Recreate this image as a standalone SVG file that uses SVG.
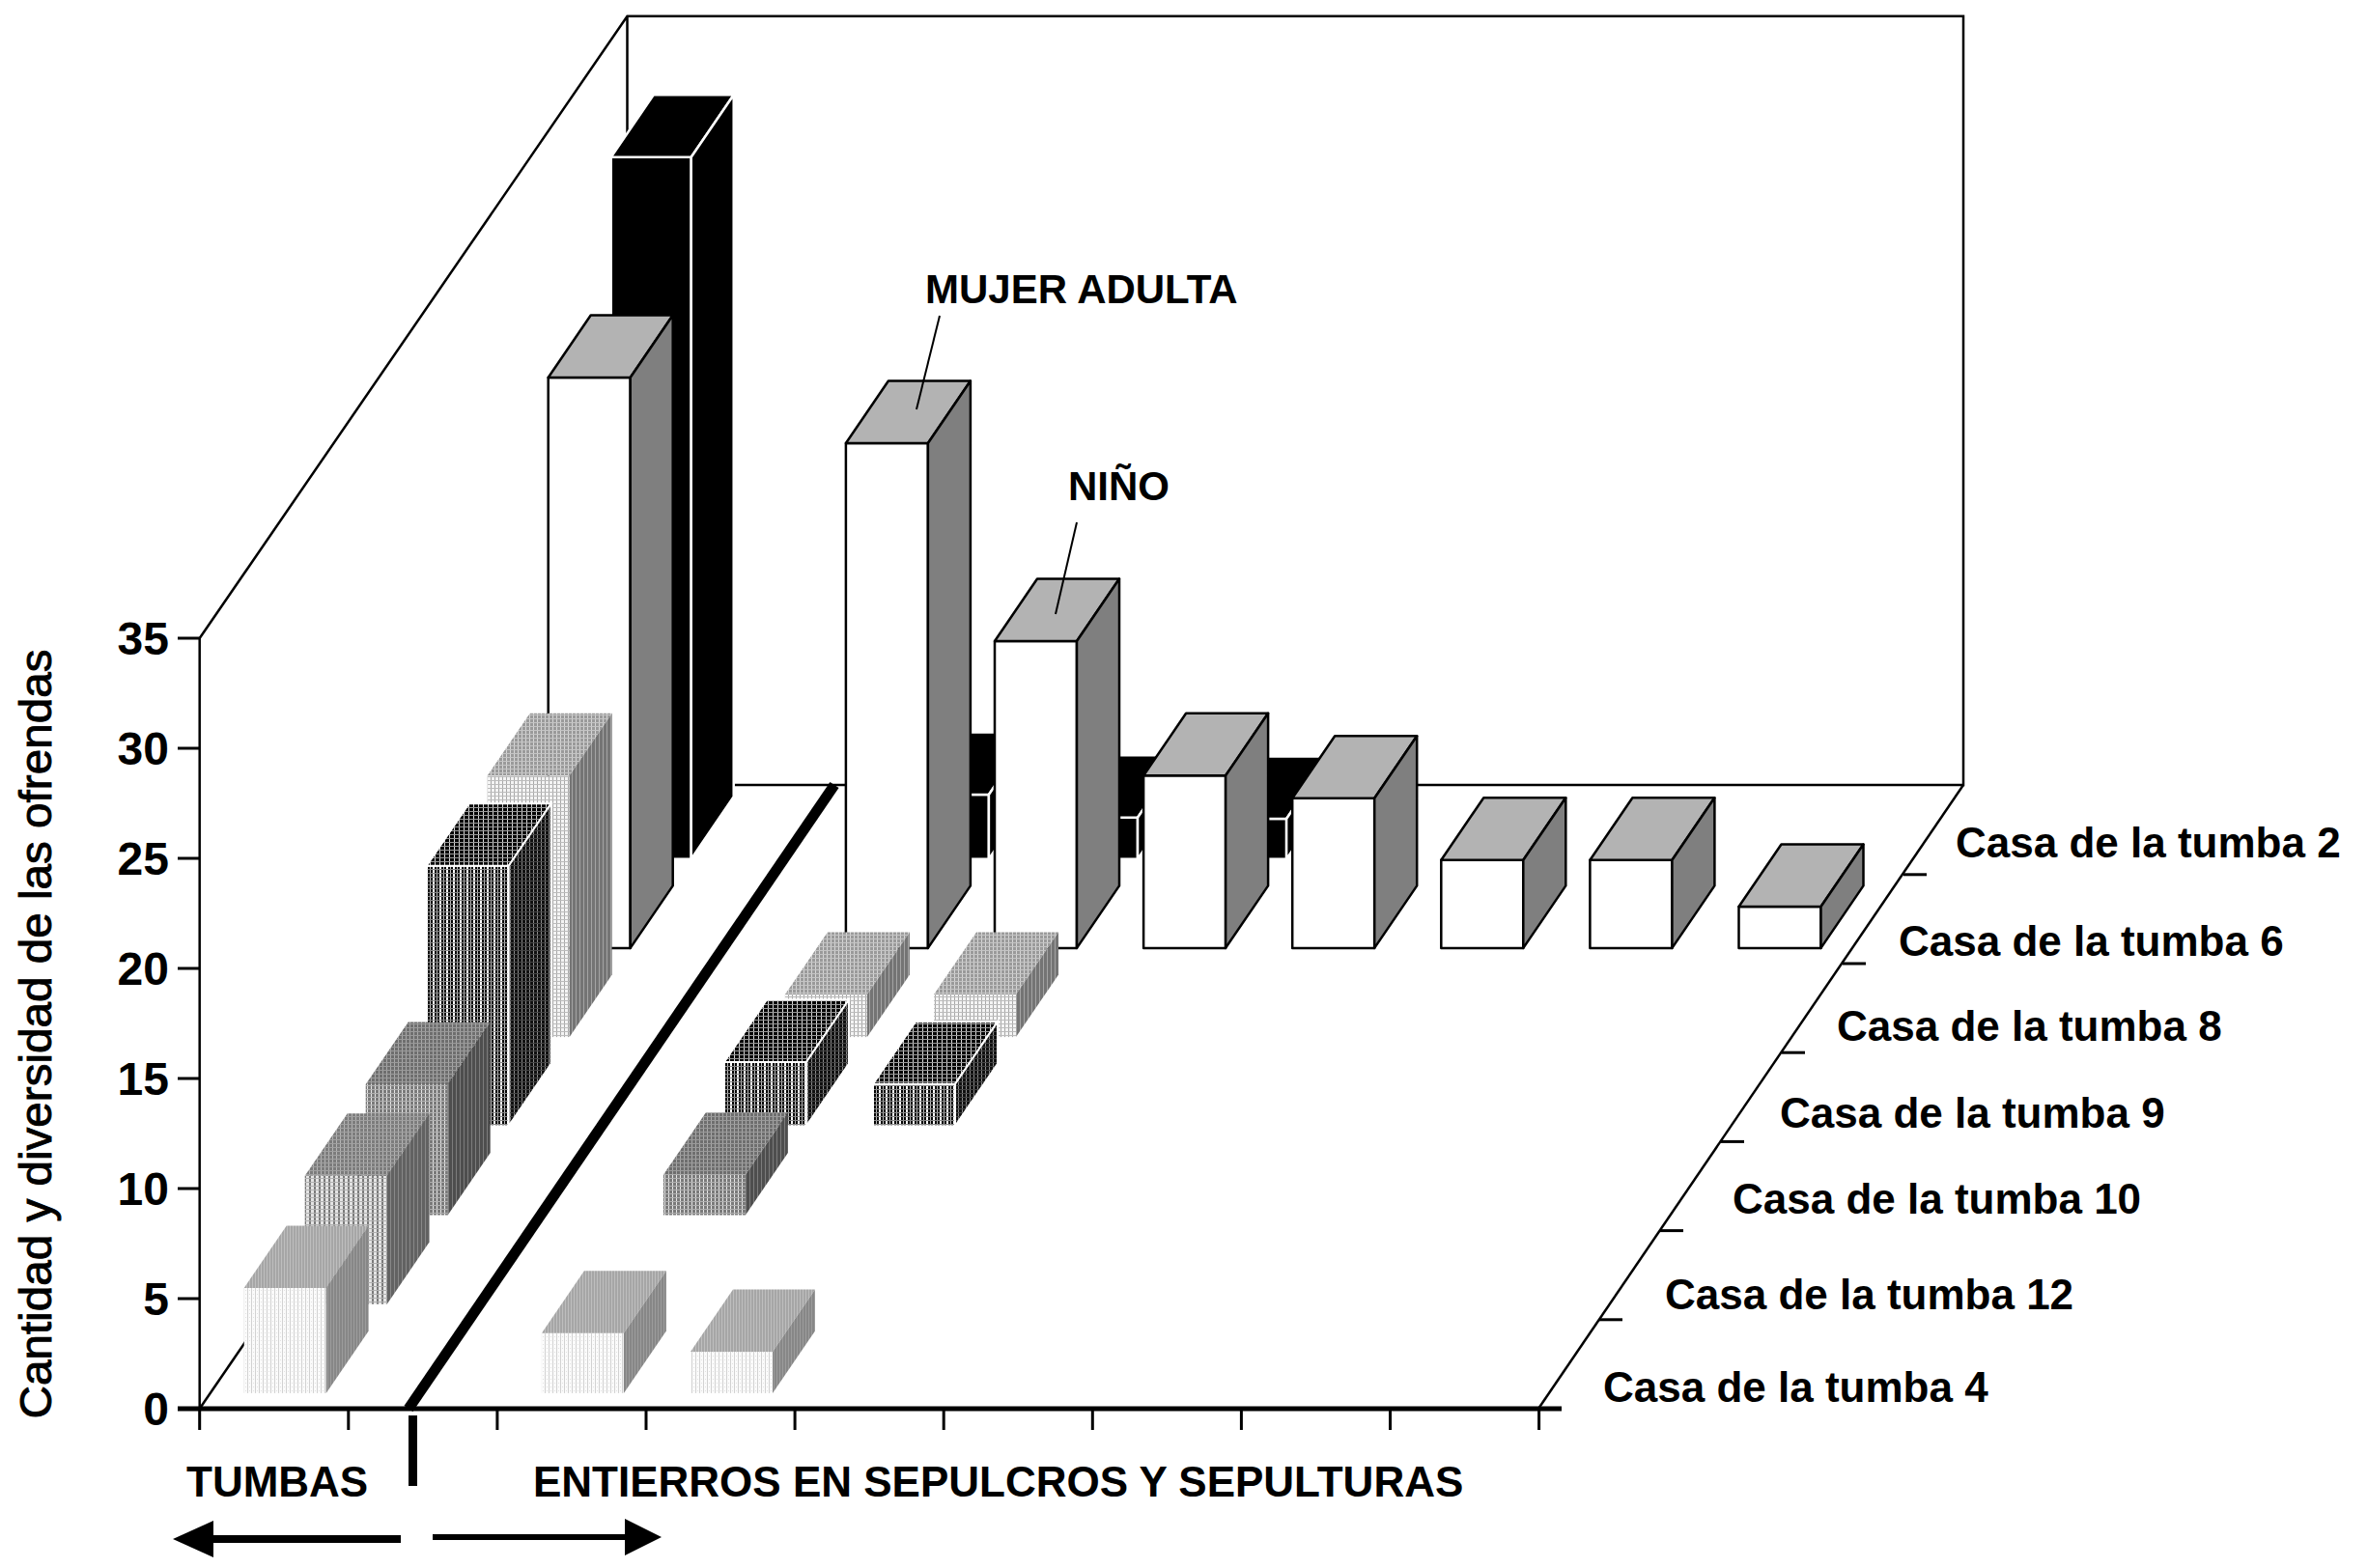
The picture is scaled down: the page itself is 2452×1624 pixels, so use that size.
<svg xmlns="http://www.w3.org/2000/svg" width="2452" height="1624" viewBox="0 0 2452 1624">
<style>
.t{font-family:"Liberation Sans",Arial,sans-serif;fill:#000}
.b{font-weight:bold}
.ax{stroke:#000;stroke-width:2.5;fill:none}
.tk{stroke:#000;stroke-width:3}
.w5 .f{fill:#fff;stroke:#000;stroke-width:2.5;stroke-linejoin:round}
.w5 .tp{fill:#b3b3b3;stroke:#000;stroke-width:2.5;stroke-linejoin:round}
.w5 .sd{fill:#7f7f7f;stroke:#000;stroke-width:2.5;stroke-linejoin:round}
.k6 .f,.k6 .tp,.k6 .sd{fill:#000;stroke:#fff;stroke-width:2.5}
.s0 .f{fill:url(#p0f)} .s0 .tp{fill:url(#p0t)} .s0 .sd{fill:url(#p0s)}
.s1 .f{fill:url(#p1f)} .s1 .tp{fill:url(#p1t)} .s1 .sd{fill:url(#p1s)}
.s2 .f{fill:url(#p2f)} .s2 .tp{fill:url(#p2t)} .s2 .sd{fill:url(#p2s)}
.s3 .f{fill:url(#p3f);stroke:#fff;stroke-width:2} .s3 .tp{fill:url(#p3t);stroke:#fff;stroke-width:2} .s3 .sd{fill:url(#p3s);stroke:#fff;stroke-width:2}
.s4 .f{fill:url(#p4f)} .s4 .tp{fill:url(#p4t)} .s4 .sd{fill:url(#p4s)}
</style>
<defs>
<pattern id="p0f" width="4" height="4" patternUnits="userSpaceOnUse"><rect width="4" height="4" fill="#fbfbfb"/><rect width="1" height="4" fill="#d2d2d2"/><rect x="2" y="0" width="1" height="1" fill="#e2e2e2"/></pattern>
<pattern id="p0t" width="3" height="3" patternUnits="userSpaceOnUse"><rect width="3" height="3" fill="#a6a6a6"/><rect width="1" height="3" fill="#bebebe"/></pattern>
<pattern id="p0s" width="3" height="3" patternUnits="userSpaceOnUse"><rect width="3" height="3" fill="#878787"/><rect width="1" height="3" fill="#9c9c9c"/></pattern>
<pattern id="p1f" width="5" height="4" patternUnits="userSpaceOnUse"><rect width="5" height="4" fill="#e4e4e4"/><rect width="2" height="4" fill="#7a7a7a"/><rect y="0" width="5" height="1" fill="#b0b0b0"/></pattern>
<pattern id="p1t" width="4" height="4" patternUnits="userSpaceOnUse"><rect width="4" height="4" fill="#7c7c7c"/><rect width="1" height="4" fill="#b4b4b4"/><rect width="4" height="1" fill="#a0a0a0"/></pattern>
<pattern id="p1s" width="4" height="4" patternUnits="userSpaceOnUse"><rect width="4" height="4" fill="#626262"/><rect width="1" height="4" fill="#888"/></pattern>
<pattern id="p2f" width="4" height="4" patternUnits="userSpaceOnUse"><rect width="4" height="4" fill="#7a7a7a"/><rect width="1" height="4" fill="#e6e6e6"/><rect width="4" height="1" fill="#b0b0b0"/></pattern>
<pattern id="p2t" width="4" height="4" patternUnits="userSpaceOnUse"><rect width="4" height="4" fill="#6e6e6e"/><rect width="1" height="4" fill="#a8a8a8"/><rect width="4" height="1" fill="#9a9a9a"/></pattern>
<pattern id="p2s" width="4" height="4" patternUnits="userSpaceOnUse"><rect width="4" height="4" fill="#4e4e4e"/><rect width="1" height="4" fill="#7c7c7c"/></pattern>
<pattern id="p3f" width="7" height="4" patternUnits="userSpaceOnUse"><rect width="7" height="4" fill="#050505"/><rect width="2" height="4" fill="#fff"/><rect x="4" width="1" height="4" fill="#bbb"/><rect width="7" height="1" fill="#888"/></pattern>
<pattern id="p3t" width="5" height="4" patternUnits="userSpaceOnUse"><rect width="5" height="4" fill="#050505"/><rect width="1" height="4" fill="#d8d8d8"/><rect width="5" height="1" fill="#999"/></pattern>
<pattern id="p3s" width="4" height="4" patternUnits="userSpaceOnUse"><rect width="4" height="4" fill="#101010"/><rect width="1" height="4" fill="#8a8a8a"/><rect width="4" height="1" fill="#444"/></pattern>
<pattern id="p4f" width="4" height="4" patternUnits="userSpaceOnUse"><rect width="4" height="4" fill="#f4f4f4"/><rect width="1" height="4" fill="#a8a8a8"/><rect width="4" height="1" fill="#bcbcbc"/></pattern>
<pattern id="p4t" width="4" height="4" patternUnits="userSpaceOnUse"><rect width="4" height="4" fill="#9a9a9a"/><rect width="1" height="4" fill="#d6d6d6"/><rect width="4" height="1" fill="#c4c4c4"/></pattern>
<pattern id="p4s" width="4" height="4" patternUnits="userSpaceOnUse"><rect width="4" height="4" fill="#747474"/><rect width="1" height="4" fill="#a4a4a4"/></pattern>
</defs>
<rect width="2452" height="1624" fill="#fff"/>

<g id="frame">
<polyline class="ax" points="206.7,661 649.5,16.7 2033,16.7 2033,813 649.5,813 649.5,16.7"/>
<line class="ax" x1="206.7" y1="1459" x2="649.5" y2="813"/>
<line class="ax" x1="1593" y1="1459" x2="2033" y2="813"/>
<line class="ax" x1="206.7" y1="661" x2="206.7" y2="1459"/>
<line x1="184" y1="1459" x2="1617" y2="1459" stroke="#000" stroke-width="5"/>
<g class="tk">
<line x1="184" y1="661" x2="206.7" y2="661"/><line x1="184" y1="775" x2="206.7" y2="775"/><line x1="184" y1="889" x2="206.7" y2="889"/><line x1="184" y1="1003" x2="206.7" y2="1003"/><line x1="184" y1="1117" x2="206.7" y2="1117"/><line x1="184" y1="1231" x2="206.7" y2="1231"/><line x1="184" y1="1345" x2="206.7" y2="1345"/>
<line x1="206.7" y1="1459" x2="206.7" y2="1481"/><line x1="360.8" y1="1459" x2="360.8" y2="1481"/><line x1="514.9" y1="1459" x2="514.9" y2="1481"/><line x1="669" y1="1459" x2="669" y2="1481"/><line x1="823.1" y1="1459" x2="823.1" y2="1481"/><line x1="977.2" y1="1459" x2="977.2" y2="1481"/><line x1="1131.3" y1="1459" x2="1131.3" y2="1481"/><line x1="1285.4" y1="1459" x2="1285.4" y2="1481"/><line x1="1439.5" y1="1459" x2="1439.5" y2="1481"/><line x1="1593.6" y1="1459" x2="1593.6" y2="1481"/>
<line x1="1656" y1="1366.8" x2="1680" y2="1366.8"/><line x1="1719" y1="1274.6" x2="1743" y2="1274.6"/><line x1="1782" y1="1182.4" x2="1806" y2="1182.4"/><line x1="1845" y1="1090.2" x2="1869" y2="1090.2"/><line x1="1908" y1="998" x2="1932" y2="998"/><line x1="1971" y1="905.8" x2="1995" y2="905.8"/>
</g>
<line x1="423" y1="1459" x2="864" y2="813" stroke="#000" stroke-width="11"/>
<line x1="427.5" y1="1466" x2="427.5" y2="1539" stroke="#000" stroke-width="9"/>
</g>

<g id="bars-tumba2" class="k6">
<g id="b-c0-r6"><rect class="f" x="632.7" y="162.7" width="83" height="727"/><polygon class="tp" points="632.7,162.7 715.7,162.7 759.7,98.2 676.7,98.2"/><polygon class="sd" points="715.7,162.7 759.7,98.2 759.7,825.2 715.7,889.7"/></g>
<g id="b-c2-r6"><rect class="f" x="938.9" y="823" width="85" height="66.7"/><polygon class="tp" points="938.9,823 1023.9,823 1067.9,758.5 982.9,758.5"/><polygon class="sd" points="1023.9,823 1067.9,758.5 1067.9,825.2 1023.9,889.7"/></g>
<g id="b-c3-r6"><rect class="f" x="1093" y="846.7" width="85" height="43"/><polygon class="tp" points="1093,846.7 1178,846.7 1222,782.2 1137,782.2"/><polygon class="sd" points="1178,846.7 1222,782.2 1222,825.2 1178,889.7"/></g>
<g id="b-c4-r6"><rect class="f" x="1247.1" y="848" width="85" height="41.7"/><polygon class="tp" points="1247.1,848 1332.1,848 1376.1,783.5 1291.1,783.5"/><polygon class="sd" points="1332.1,848 1376.1,783.5 1376.1,825.2 1332.1,889.7"/></g>
</g>

<g id="bars-tumba6" class="w5">
<g id="b-c0-r5"><rect class="f" x="567.7" y="391" width="85" height="590.9"/><polygon class="tp" points="567.7,391 652.7,391 696.7,326.5 611.7,326.5"/><polygon class="sd" points="652.7,391 696.7,326.5 696.7,917.4 652.7,981.9"/></g>
<g id="b-c2-r5"><rect class="f" x="875.9" y="459" width="85" height="522.9"/><polygon class="tp" points="875.9,459 960.9,459 1004.9,394.5 919.9,394.5"/><polygon class="sd" points="960.9,459 1004.9,394.5 1004.9,917.4 960.9,981.9"/></g>
<g id="b-c3-r5"><rect class="f" x="1030" y="664" width="85" height="317.9"/><polygon class="tp" points="1030,664 1115,664 1159,599.5 1074,599.5"/><polygon class="sd" points="1115,664 1159,599.5 1159,917.4 1115,981.9"/></g>
<g id="b-c4-r5"><rect class="f" x="1184.1" y="803.3" width="85" height="178.6"/><polygon class="tp" points="1184.1,803.3 1269.1,803.3 1313.1,738.8 1228.1,738.8"/><polygon class="sd" points="1269.1,803.3 1313.1,738.8 1313.1,917.4 1269.1,981.9"/></g>
<g id="b-c5-r5"><rect class="f" x="1338.2" y="826.7" width="85" height="155.2"/><polygon class="tp" points="1338.2,826.7 1423.2,826.7 1467.2,762.2 1382.2,762.2"/><polygon class="sd" points="1423.2,826.7 1467.2,762.2 1467.2,917.4 1423.2,981.9"/></g>
<g id="b-c6-r5"><rect class="f" x="1492.3" y="890.7" width="85" height="91.2"/><polygon class="tp" points="1492.3,890.7 1577.3,890.7 1621.3,826.2 1536.3,826.2"/><polygon class="sd" points="1577.3,890.7 1621.3,826.2 1621.3,917.4 1577.3,981.9"/></g>
<g id="b-c7-r5"><rect class="f" x="1646.4" y="890.7" width="85" height="91.2"/><polygon class="tp" points="1646.4,890.7 1731.4,890.7 1775.4,826.2 1690.4,826.2"/><polygon class="sd" points="1731.4,890.7 1775.4,826.2 1775.4,917.4 1731.4,981.9"/></g>
<g id="b-c8-r5"><rect class="f" x="1800.5" y="939" width="85" height="42.9"/><polygon class="tp" points="1800.5,939 1885.5,939 1929.5,874.5 1844.5,874.5"/><polygon class="sd" points="1885.5,939 1929.5,874.5 1929.5,917.4 1885.5,981.9"/></g>
</g>

<g id="bars-tumba8" class="s4">
<g id="b-c0-r4"><rect class="f" x="504.7" y="803.3" width="85" height="270.8"/><polygon class="tp" points="504.7,803.3 589.7,803.3 633.7,738.8 548.7,738.8"/><polygon class="sd" points="589.7,803.3 633.7,738.8 633.7,1009.6 589.7,1074.1"/></g>
<g id="b-c2-r4"><rect class="f" x="812.9" y="1030" width="85" height="44.1"/><polygon class="tp" points="812.9,1030 897.9,1030 941.9,965.5 856.9,965.5"/><polygon class="sd" points="897.9,1030 941.9,965.5 941.9,1009.6 897.9,1074.1"/></g>
<g id="b-c3-r4"><rect class="f" x="967" y="1030" width="85" height="44.1"/><polygon class="tp" points="967,1030 1052,1030 1096,965.5 1011,965.5"/><polygon class="sd" points="1052,1030 1096,965.5 1096,1009.6 1052,1074.1"/></g>
</g>

<g id="bars-tumba9" class="s3">
<g id="b-c0-r3"><rect class="f" x="441.7" y="896.7" width="85" height="269.6"/><polygon class="tp" points="441.7,896.7 526.7,896.7 570.7,832.2 485.7,832.2"/><polygon class="sd" points="526.7,896.7 570.7,832.2 570.7,1101.8 526.7,1166.3"/></g>
<g id="b-c2-r3"><rect class="f" x="749.9" y="1100" width="85" height="66.3"/><polygon class="tp" points="749.9,1100 834.9,1100 878.9,1035.5 793.9,1035.5"/><polygon class="sd" points="834.9,1100 878.9,1035.5 878.9,1101.8 834.9,1166.3"/></g>
<g id="b-c3-r3"><rect class="f" x="904" y="1122.7" width="85" height="43.6"/><polygon class="tp" points="904,1122.7 989,1122.7 1033,1058.2 948,1058.2"/><polygon class="sd" points="989,1122.7 1033,1058.2 1033,1101.8 989,1166.3"/></g>
</g>

<g id="bars-tumba10" class="s2">
<g id="b-c0-r2"><rect class="f" x="378.7" y="1123" width="85" height="135.5"/><polygon class="tp" points="378.7,1123 463.7,1123 507.7,1058.5 422.7,1058.5"/><polygon class="sd" points="463.7,1123 507.7,1058.5 507.7,1194 463.7,1258.5"/></g>
<g id="b-c2-r2"><rect class="f" x="686.9" y="1216.7" width="85" height="41.8"/><polygon class="tp" points="686.9,1216.7 771.9,1216.7 815.9,1152.2 730.9,1152.2"/><polygon class="sd" points="771.9,1216.7 815.9,1152.2 815.9,1194 771.9,1258.5"/></g>
</g>

<g id="bars-tumba12" class="s1">
<g id="b-c0-r1"><rect class="f" x="315.7" y="1217.8" width="85" height="132.9"/><polygon class="tp" points="315.7,1217.8 400.7,1217.8 444.7,1153.3 359.7,1153.3"/><polygon class="sd" points="400.7,1217.8 444.7,1153.3 444.7,1286.2 400.7,1350.7"/></g>
</g>

<g id="bars-tumba4" class="s0">
<g id="b-c0-r0"><rect class="f" x="252.7" y="1334" width="85" height="108.9"/><polygon class="tp" points="252.7,1334 337.7,1334 381.7,1269.5 296.7,1269.5"/><polygon class="sd" points="337.7,1334 381.7,1269.5 381.7,1378.4 337.7,1442.9"/></g>
<g id="b-c2-r0"><rect class="f" x="560.9" y="1380.7" width="85" height="62.2"/><polygon class="tp" points="560.9,1380.7 645.9,1380.7 689.9,1316.2 604.9,1316.2"/><polygon class="sd" points="645.9,1380.7 689.9,1316.2 689.9,1378.4 645.9,1442.9"/></g>
<g id="b-c3-r0"><rect class="f" x="715" y="1400" width="85" height="42.9"/><polygon class="tp" points="715,1400 800,1400 844,1335.5 759,1335.5"/><polygon class="sd" points="800,1400 844,1335.5 844,1378.4 800,1442.9"/></g>
</g>

<g id="connectors">
<line x1="973" y1="327" x2="949" y2="424" stroke="#000" stroke-width="2"/>
<line x1="1115" y1="541" x2="1093" y2="636" stroke="#000" stroke-width="2"/>
<line x1="218" y1="1594" x2="415" y2="1594" stroke="#000" stroke-width="8"/>
<polygon points="179,1594 221,1575 221,1613" fill="#000"/>
<line x1="448" y1="1592" x2="650" y2="1592" stroke="#000" stroke-width="6"/>
<polygon points="685,1592 647,1573 647,1611" fill="#000"/>
</g>

<g id="labels" class="t">
<text class="t b" x="175" y="678" font-size="48" text-anchor="end">35</text>
<text class="t b" x="175" y="792" font-size="48" text-anchor="end">30</text>
<text class="t b" x="175" y="906" font-size="48" text-anchor="end">25</text>
<text class="t b" x="175" y="1020" font-size="48" text-anchor="end">20</text>
<text class="t b" x="175" y="1134" font-size="48" text-anchor="end">15</text>
<text class="t b" x="175" y="1248" font-size="48" text-anchor="end">10</text>
<text class="t b" x="175" y="1362" font-size="48" text-anchor="end">5</text>
<text class="t b" x="175" y="1476" font-size="48" text-anchor="end">0</text>
<text class="t" transform="translate(53,1071) rotate(-90)" font-size="47" stroke="#000" stroke-width="0.9" text-anchor="middle" textLength="797" lengthAdjust="spacingAndGlyphs">Cantidad y diversidad de las ofrendas</text>
<text class="t b" x="2025" y="888" font-size="44">Casa de la tumba 2</text>
<text class="t b" x="1966" y="990" font-size="44">Casa de la tumba 6</text>
<text class="t b" x="1902" y="1078" font-size="44">Casa de la tumba 8</text>
<text class="t b" x="1843" y="1168" font-size="44">Casa de la tumba 9</text>
<text class="t b" x="1794" y="1257" font-size="44">Casa de la tumba 10</text>
<text class="t b" x="1724" y="1356" font-size="44">Casa de la tumba 12</text>
<text class="t b" x="1660" y="1452" font-size="44">Casa de la tumba 4</text>
<text class="t b" x="193" y="1550" font-size="44">TUMBAS</text>
<text class="t b" x="552" y="1550" font-size="44">ENTIERROS EN SEPULCROS Y SEPULTURAS</text>
<text class="t b" x="958" y="314" font-size="42">MUJER ADULTA</text>
<text class="t b" x="1106" y="518" font-size="42">NIÑO</text>
</g>
</svg>
